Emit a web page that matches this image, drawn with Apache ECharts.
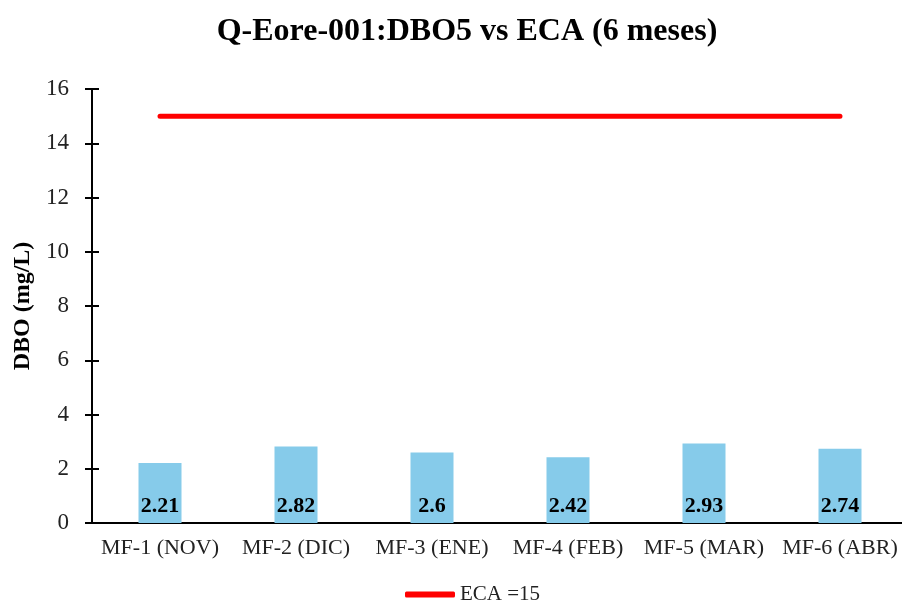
<!DOCTYPE html>
<html>
<head>
    <meta charset="UTF-8">
    <title>DBO5 vs ECA</title>
    <script src="https://cdn.jsdelivr.net/npm/echarts@6/dist/echarts.min.js"></script>
    <style>
        body { margin: 0; background: #fff; }
        #chart { width: 902px; height: 610px; }
    </style>
</head>
<body>
<div id="chart"></div>
<script type="text/javascript">
    var categories = ['MF-1 (NOV)', 'MF-2 (DIC)', 'MF-3 (ENE)', 'MF-4 (FEB)', 'MF-5 (MAR)', 'MF-6 (ABR)'];
    var dboValues = [2.21, 2.82, 2.6, 2.42, 2.93, 2.74];
    var ecaValues = [15, 15, 15, 15, 15, 15];

    var serif = '"Liberation Serif", "Times New Roman", serif';
    var chart = echarts.init(document.getElementById('chart'));

    var option = {
        animation: false,
        title: {
            text: 'Q-Eore-001:DBO5 vs ECA (6 meses)',
            top: 11,
            left: 462,
            textAlign: 'center',
            textStyle: { fontFamily: serif, fontSize: 32, fontWeight: 'bold', color: '#000' }
        },
        legend: {
            bottom: 0,
            left: 400,
            data: [{ name: 'ECA =15', icon: 'roundRect' }],
            itemWidth: 50,
            itemHeight: 6,
            itemGap: 4,
            textStyle: { fontFamily: serif, fontSize: 21, color: '#222' }
        },
        grid: { left: 92, right: -6, top: 89, bottom: 87, outerBoundsMode: 'none', containLabel: false },
        xAxis: {
            type: 'category',
            data: categories,
            axisLine: { lineStyle: { color: '#000', width: 2 } },
            axisTick: { show: false },
            axisLabel: { fontFamily: serif, fontSize: 22, color: '#222', margin: 14, interval: 0 }
        },
        yAxis: [{
            type: 'value',
            min: 0,
            max: 16,
            interval: 2,
            name: 'DBO (mg/L)',
            nameLocation: 'middle',
            nameGap: 54,
            nameTextStyle: { fontFamily: serif, fontSize: 24, fontWeight: 'bold', color: '#000' },
            axisLine: { show: true, lineStyle: { color: '#000', width: 2 } },
            axisTick: { show: true, length: 7, lineStyle: { color: '#000', width: 2 } },
            axisLabel: { fontFamily: serif, fontSize: 23, color: '#222', margin: 23 },
            splitLine: { show: false }
        }, {
            type: 'value',
            position: 'left',
            min: 0,
            max: 16,
            interval: 2,
            axisLine: { show: false },
            axisTick: { show: true, inside: true, length: 7, lineStyle: { color: '#000', width: 2 } },
            axisLabel: { show: false },
            splitLine: { show: false }
        }],
        series: [{
            name: 'DBO',
            type: 'bar',
            data: dboValues,
            barWidth: 43,
            itemStyle: { color: '#86CBEA' },
            label: {
                show: true,
                position: 'insideBottom',
                distance: 6,
                fontFamily: serif,
                fontSize: 22,
                fontWeight: 'bold',
                color: '#000'
            }
        }, {
            name: 'ECA =15',
            type: 'line',
            data: ecaValues,
            symbol: 'none',
            lineStyle: { color: '#FF0000', width: 5, cap: 'round' },
            itemStyle: { color: '#FF0000' }
        }]
    };
    chart.setOption(option);
</script>
</body>
</html>
